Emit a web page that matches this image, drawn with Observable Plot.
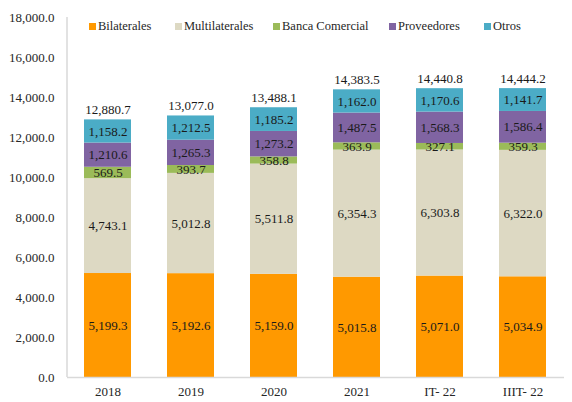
<!DOCTYPE html>
<html>
<head>
<meta charset="utf-8">
<script src="https://cdn.jsdelivr.net/npm/d3@7"></script>
<script src="https://cdn.jsdelivr.net/npm/@observablehq/plot@0.6"></script>
<style>
  body { margin: 0; background: #fff; }
  #wrap { position: relative; width: 572px; height: 402px; font-family: "Times New Roman", "Liberation Serif", Times, serif; }
  #legend { position: absolute; top: 19px; left: 0; width: 572px; height: 16px; font-size: 12.5px; color: #262626; }
  #legend .item { position: absolute; top: 0; display: flex; align-items: center; white-space: nowrap; }
  #legend .sw { width: 7px; height: 7px; margin-right: 2px; }
</style>
</head>
<body>
<div id="wrap"><div id="legend"></div></div>
<script>
const categories = ["2018", "2019", "2020", "2021", "IT- 22", "IIIT- 22"];
const seriesNames = ["Bilaterales", "Multilaterales", "Banca Comercial", "Proveedores", "Otros"];
const colors = ["#FF9900", "#DDD9C3", "#9BBB59", "#8064A2", "#4BACC6"];
const bilaterales = [5199.3, 5192.6, 5159.0, 5015.8, 5071.0, 5034.9];
const multilaterales = [4743.1, 5012.8, 5511.8, 6354.3, 6303.8, 6322.0];
const bancaComercial = [569.5, 393.7, 358.8, 363.9, 327.1, 359.3];
const proveedores = [1210.6, 1265.3, 1273.2, 1487.5, 1568.3, 1586.4];
const otros = [1158.2, 1212.5, 1185.2, 1162.0, 1170.6, 1141.7];
const totals = [12880.7, 13077.0, 13488.1, 14383.5, 14440.8, 14444.2];
const yTicks = [0, 2000, 4000, 6000, 8000, 10000, 12000, 14000, 16000, 18000];

const seriesValues = [bilaterales, multilaterales, bancaComercial, proveedores, otros];
const data = [];
seriesNames.forEach((s, si) => categories.forEach((c, ci) => data.push({cat: c, series: s, value: seriesValues[si][ci]})));
const totalData = categories.map((c, i) => ({cat: c, total: totals[i]}));
const fmt = d3.format(",.1f");
const serif = '"Times New Roman", "Liberation Serif", Times, serif';

const chart = Plot.plot({
  width: 572,
  height: 402,
  marginLeft: 67,
  marginRight: 8,
  marginTop: 17,
  marginBottom: 25,
  style: {fontFamily: serif, fontSize: "13px", color: "#262626", background: "transparent"},
  x: {domain: categories, paddingInner: 0.43, paddingOuter: 0.2, label: null, tickSize: 0, tickPadding: 9},
  y: {domain: [0, 18000], ticks: yTicks, tickFormat: fmt, label: null, tickSize: 0, tickPadding: 13},
  color: {domain: seriesNames, range: colors},
  marks: [
    Plot.barY(data, {x: "cat", y: "value", fill: "series", order: seriesNames}),
    Plot.text(data, Plot.stackY({x: "cat", y: "value", z: "series", order: seriesNames, text: d => fmt(d.value), fill: "#1a1a1a", fontSize: 13})),
    Plot.text(totalData, {x: "cat", y: "total", text: d => fmt(d.total), lineAnchor: "bottom", dy: -6, fill: "#1a1a1a", fontSize: 13}),
    Plot.ruleY([0], {stroke: "#d9d9d9", strokeWidth: 1.5})
  ]
});

const xs = chart.scale("x"), ys = chart.scale("y");
d3.select(chart).append("line")
  .attr("x1", xs.range[0]).attr("x2", xs.range[0])
  .attr("y1", ys.range[0]).attr("y2", ys.range[1])
  .attr("stroke", "#d9d9d9").attr("stroke-width", 1.5);

const wrap = document.getElementById("wrap");
wrap.appendChild(chart);
chart.style.position = "absolute"; chart.style.left = "0"; chart.style.top = "0";
wrap.appendChild(document.getElementById("legend"));

const legendLeft = [89, 175, 273, 389, 484];
const legend = d3.select("#legend");
seriesNames.forEach((s, i) => {
  const it = legend.append("div").attr("class", "item").style("left", legendLeft[i] + "px");
  it.append("div").attr("class", "sw").style("background", colors[i]);
  it.append("span").text(s);
});
</script>
</body>
</html>
